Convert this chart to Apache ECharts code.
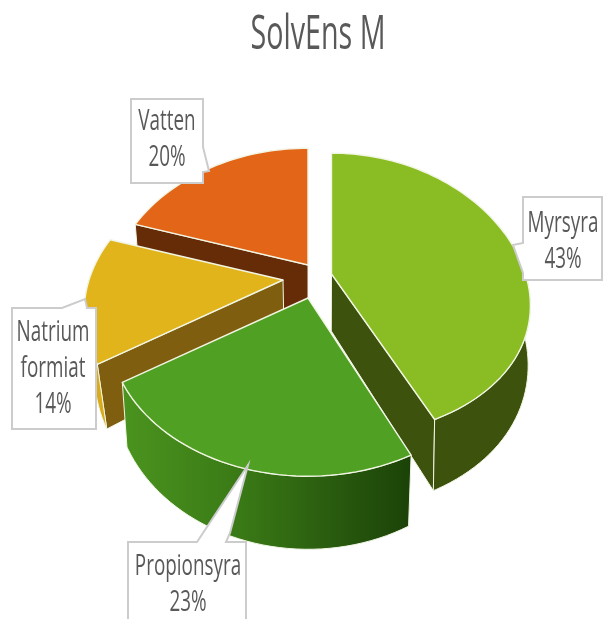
<!DOCTYPE html>
<html>
<head>
<meta charset="utf-8">
<style>
    html, body { margin: 0; padding: 0; background: #fff; }
    #chart { width: 603px; height: 619px; }
</style>
<script src="https://cdn.jsdelivr.net/npm/echarts@6/dist/echarts.min.js"></script>
</head>
<body>
<div id="chart"></div>
<script>
var chartTitle = 'SolvEns M';
var categories = ['Myrsyra', 'Propionsyra', 'Natrium formiat', 'Vatten'];
var values = [43, 23, 14, 20];

var FONT = '"Open Sans", sans-serif';
var TEXT_COLOR = '#595959';

// pie projection: radius on screen, tilt and perspective
var centerX = 308;
var centerY = 277;
var radiusX = 194;
var radiusY = 139;
var persp = 0.22;
var depth = 57;
// back slices first so the front ones paint over them
var drawOrder = [3, 2, 0, 1];

// one look per slice, same order as categories
var looks = [
    { shift: [23.5, -3], perspY: 0.15, shrink: 0.99, top: '#8abc23', side: '#3d520c', wall: '#3d520c' },
    { shift: [0, 21], perspY: 0.22, shrink: 0.975, top: '#50a023', side: '#3d7a18', wall: [['#4b941f', 0], ['#3a7a16', 0.4], ['#1b4208', 1]] },
    { shift: [-25, 3], perspY: 0.22, shrink: 0.955, top: '#e2b41c', side: '#7f5f0f', wall: '#d9aa1a' },
    { shift: [0, -12], perspY: 0.19, shrink: 0.975, top: '#e36618', side: '#662b07', wall: '#662b07' }
];

// callout boxes, same order as categories
var callouts = [
    { text: [563, 242], box: [[523, 197], [602, 197], [602, 280], [523, 280], [523, 273], [513, 245], [523, 243]] },
    { text: [188, 585], box: [[128, 542], [197, 542], [248, 465], [230, 533], [226, 542], [246, 542], [246, 630], [128, 630]] },
    { text: [53, 369], box: [[12, 308], [62, 308], [85, 299], [87, 308], [96, 308], [96, 429], [12, 429]] },
    { text: [167, 140], box: [[131, 99], [203, 99], [203, 147], [209, 171], [203, 172], [203, 183], [131, 183]] }
];

var total = values.reduce(function (a, b) { return a + b; }, 0);

function sliceAngles(index) {
    var before = 0;
    for (var i = 0; i < index; i++) {
        before += values[i];
    }
    return [before / total * 360, (before + values[index]) / total * 360];
}

function projectTop(index, deg) {
    var look = looks[index];
    var rad = deg * Math.PI / 180;
    var w = 1 + persp * Math.cos(rad);
    var wy = 1 + look.perspY * Math.cos(rad);
    return [
        centerX + look.shift[0] + radiusX * Math.sin(rad) / w,
        centerY + look.shift[1] - radiusY * Math.cos(rad) / wy
    ];
}

function apexTop(index) {
    var shift = looks[index].shift;
    return [centerX + shift[0], centerY + shift[1]];
}

function dropDown(index, p, deg) {
    var w = deg === null ? 1 : 1 + persp * Math.cos(deg * Math.PI / 180);
    return [centerX + (p[0] - centerX) * looks[index].shrink, p[1] + depth / w];
}

function arcDegs(from, to) {
    var list = [];
    for (var d = from; d < to; d += 2) {
        list.push(d);
    }
    list.push(to);
    return list;
}

function wallFill(look) {
    if (typeof look.wall === 'string') {
        return look.wall;
    }
    return new echarts.graphic.LinearGradient(0, 0, 1, 0, look.wall.map(function (s) {
        return { offset: s[1], color: s[0] };
    }));
}

var edgeStyle = { stroke: '#f1f5e3', lineWidth: 1.4, lineJoin: 'round' };

function cutFace(index, deg, apex) {
    var rim = projectTop(index, deg);
    return {
        type: 'polygon',
        shape: { points: [apex, rim, dropDown(index, rim, deg), dropDown(index, apex, null)] },
        style: Object.assign({ fill: looks[index].side }, edgeStyle, { lineWidth: 1 })
    };
}

function renderSlice(params, api) {
    var index = api.value(0);
    var look = looks[index];
    var angles = sliceAngles(index);
    var children = [];
    var apex = apexTop(index);

    // cut faces, only those turned to the viewer
    if (Math.sin(angles[0] * Math.PI / 180) < -0.01) {
        children.push(cutFace(index, angles[0], apex));
    }
    if (Math.sin(angles[1] * Math.PI / 180) > 0.01) {
        children.push(cutFace(index, angles[1], apex));
    }

    // outer wall, only the part that faces the viewer
    var from = Math.max(angles[0], 90);
    var to = Math.min(angles[1], 270);
    if (from < to) {
        var upper = arcDegs(from, to).map(function (d) { return projectTop(index, d); });
        var lower = arcDegs(from, to).map(function (d) { return dropDown(index, projectTop(index, d), d); });
        children.push({
            type: 'polygon',
            shape: { points: upper.concat(lower.reverse()) },
            style: Object.assign({ fill: wallFill(look) }, edgeStyle, { lineWidth: 1 })
        });
    }

    // top face
    var topPts = [apex].concat(arcDegs(angles[0], angles[1]).map(function (d) {
        return projectTop(index, d);
    }));
    children.push({
        type: 'polygon',
        shape: { points: topPts },
        style: Object.assign({ fill: look.top }, edgeStyle)
    });

    return { type: 'group', children: children };
}

function squeezedText(text, x, y, fontSize, lineHeight, squeeze) {
    return {
        type: 'text',
        x: x,
        y: y,
        scaleX: squeeze,
        style: {
            text: text,
            x: 0,
            y: 0,
            textAlign: 'center',
            textVerticalAlign: 'middle',
            fontFamily: FONT,
            fontSize: fontSize,
            lineHeight: lineHeight,
            fill: TEXT_COLOR
        }
    };
}

function renderCallout(params, api) {
    var index = api.value(0);
    var c = callouts[index];
    var label = categories[index].replace(' ', '\n') + '\n' + api.value(1) + '%';
    return {
        type: 'group',
        children: [{
            type: 'polygon',
            shape: { points: c.box },
            style: { fill: '#fff', stroke: '#cccccc', lineWidth: 2, lineJoin: 'miter' }
        }, squeezedText(label, c.text[0], c.text[1], 29.5, 36, 0.64)]
    };
}

var myChart = echarts.init(document.getElementById('chart'), null, { renderer: 'canvas' });
myChart.setOption({
    animation: false,
    graphic: {
        elements: [squeezedText(chartTitle, 318, 36, 47, 50, 0.61)]
    },
    series: [{
        type: 'custom',
        coordinateSystem: 'none',
        renderItem: renderSlice,
        data: drawOrder.map(function (i) { return [i, values[i]]; }),
        silent: true,
        z: 2
    }, {
        type: 'custom',
        coordinateSystem: 'none',
        renderItem: renderCallout,
        data: categories.map(function (name, i) { return [i, values[i]]; }),
        silent: true,
        z: 3
    }]
});
</script>
</body>
</html>
